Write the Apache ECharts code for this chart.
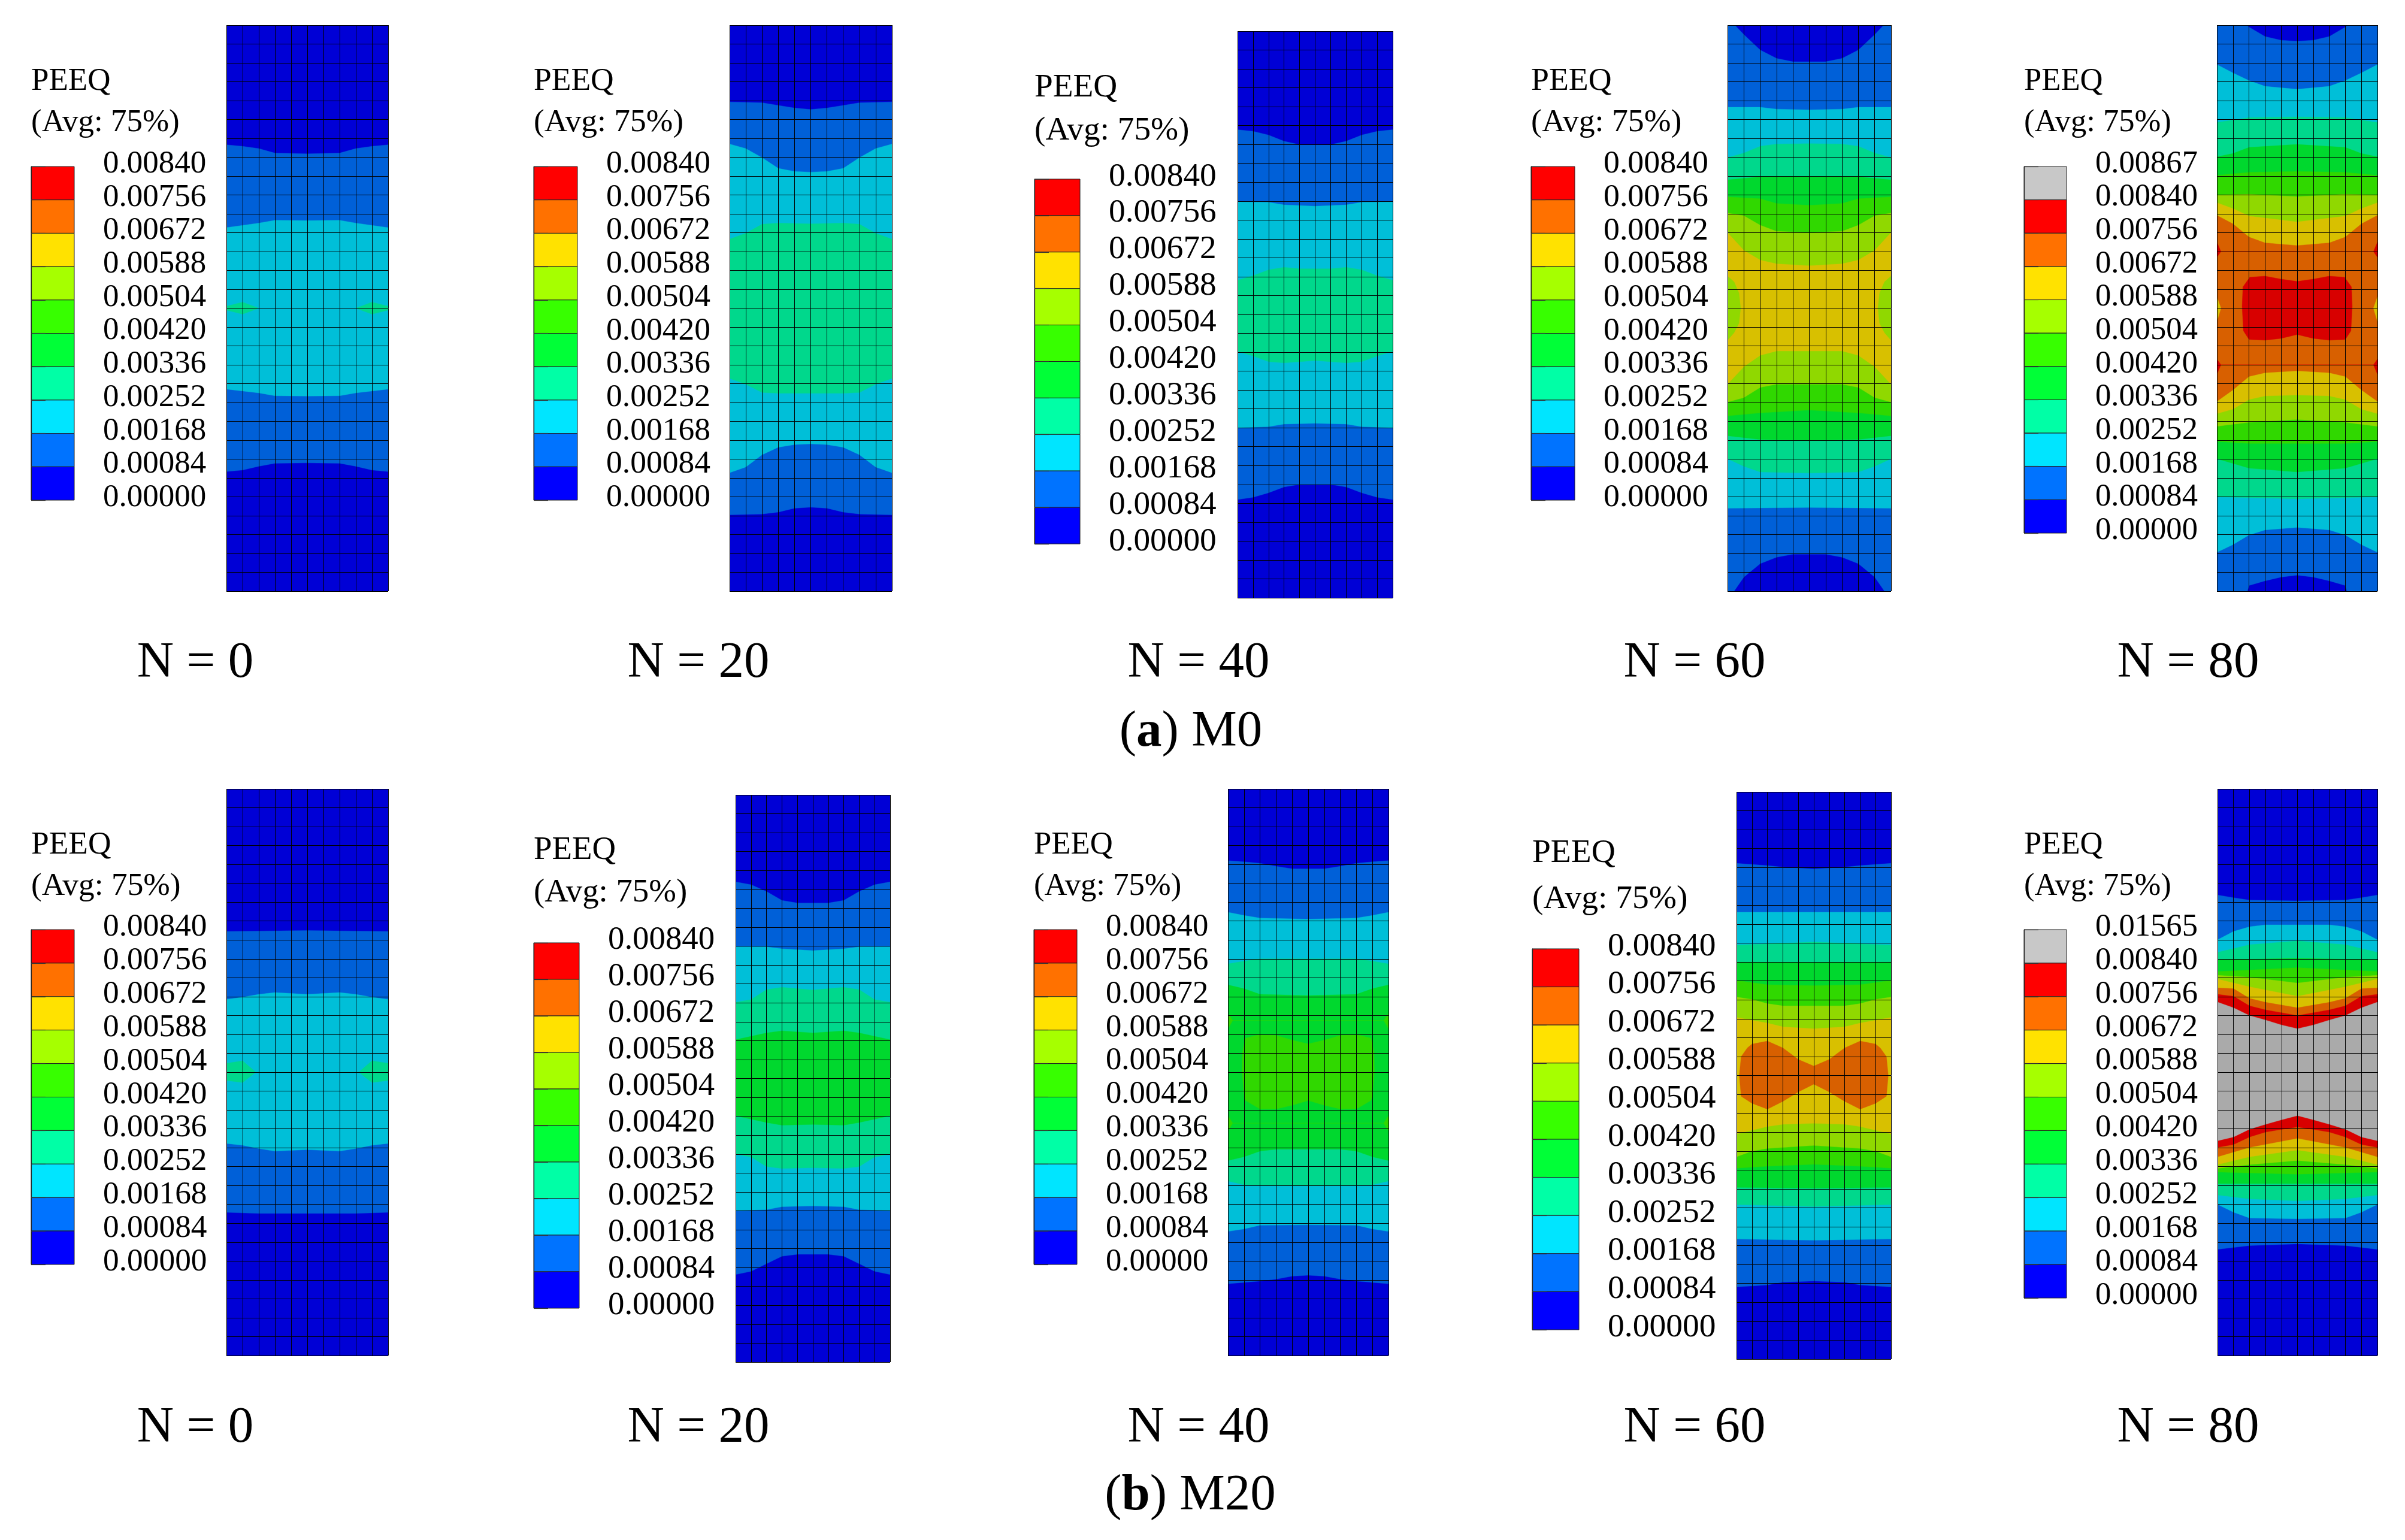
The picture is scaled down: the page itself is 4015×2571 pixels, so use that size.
<!DOCTYPE html>
<html>
<head>
<meta charset="utf-8">
<style>html,body{margin:0;padding:0;background:#fff}#c{width:4015px;height:2571px}</style>
<script src="https://cdn.jsdelivr.net/npm/echarts@6/dist/echarts.min.js"></script>
</head>
<body>
<div id="c"></div>
<script>
// ---------- values ----------
const legendTitle = 'PEEQ';
const legendSubtitle = '(Avg: 75%)';
const legendLabels = ['0.00840','0.00756','0.00672','0.00588','0.00504','0.00420','0.00336','0.00252','0.00168','0.00084','0.00000'];
const topLabelM0N80 = '0.00867';
const topLabelM20N80 = '0.01565';
const captionsN = ['N = 0','N = 20','N = 40','N = 60','N = 80'];
const legendColors = ['#0000ff','#0073ff','#00e5ff','#00ffa6','#00ff37','#37ff00','#a6ff00','#ffe200','#ff7100','#ff0000','#c8c8c8'];
const plotColors = ['#0000d6','#0060d8','#00bfd8','#00d88c','#00d82e','#30d800','#90d800','#d8c000','#d86000','#d80000','#aaaaaa'];

// contour regions: [level, upper edge, lower edge]; edges are x,y pairs in mesh
// units (10 x 30 elements), running from the left side to the mid-line.
const contourM0N0 = [
  [1,[0,6.34,1,6.42,2,6.54,3,6.78,5,6.82],[0,23.66,1,23.58,2,23.38,3,23.22,5,23.2]],
  [2,[0,10.73,2,10.49,3,10.34,5,10.36],[0,19.29,2,19.49,3,19.64,5,19.66]],
  [3,[0,14.9,1,14.68,2,15],[0,15.1,1,15.32,2,15]]
];
const contourM0N20 = [
  [1,[0,4.07,2,4.11,3,4.25,4,4.39,5,4.47],[0,25.95,2,25.91,3,25.81,4,25.6,5,25.55]],
  [2,[0,6.3,1,6.54,2,7.02,3,7.59,4,7.75,5,7.79],[0,23.72,1,23.42,2,22.77,3,22.37,4,22.23,5,22.19]],
  [3,[0,11.34,1,11.03,2,10.55,3,10.49,5,10.53],[0,18.72,1,19.03,2,19.47,3,19.51,5,19.51]]
];
const contourM0N40 = [
  [1,[0,5.22,1,5.3,2,5.5,3,5.83,4,6.01,5,6.01],[0,24.8,1,24.68,2,24.44,3,24.13,4,24,5,24]],
  [2,[0,9.04,2,9.06,3,9.2,5,9.27],[0,21,2,20.94,3,20.8,5,20.76]],
  [3,[0,13.19,1,12.95,2,12.64,3,12.5,4,12.58,5,12.58],[0,16.95,1,17.2,2,17.5,3,17.56,5,17.44]]
];
const contourM0N60 = [
  [1,[0,0,0.45,0,1,0.5,2,1.32,3,1.76,4,1.94,5,1.94],[0,30,0.4,30,1,29.25,2,28.54,3,28.2,4,28.04,5,28.04]],
  [2,[0,4.35,2,4.35,3,4.45,5,4.49],[0,25.6,5,25.56]],
  [3,[0,7.02,1,6.78,2,6.42,3,6.3,5,6.28],[0,22.98,1,23.38,2,23.68,5,23.74]],
  [4,[0,8.2,2,8.04,5,8.02],[0,21.76,2,21.96,5,22]],
  [5,[0,9.1,2,9.2,3,9.45,5,9.55],[0,20.71,2,20.55,5,20.4]],
  [6,[0,9.96,1,10.1,2,10.6,3,10.93,5,10.99],[0,19.98,1,19.74,2,19.2,3,19.03,5,19.03]],
  [7,[0,10.99,1,11.94,2,12.45,3,12.65,5,12.75],[0,19.03,1,18.1,2,17.5,3,17.27,5,17.27]],
  [6,[0,13.3,0.4,13.6,0.7,14.2,0.8,15],[0,16.7,0.4,16.3,0.7,15.8,0.8,15]]
];
const contourM0N80 = [
  [1,[0,0,1.85,0,2,0.1,3,0.6,4,0.8,5,0.85],[0,30,1.9,30,2,29.7,3,29.45,4,29.25,5,29.15]],
  [2,[0,2.09,1,2.53,2,2.94,3,3.24,5,3.4],[0,27.94,1,27.53,2,27.02,3,26.75,5,26.62]],
  [3,[0,5.16,2,4.9,5,4.86],[0,25,5,25.1]],
  [4,[0,6.98,1,6.8,2,6.48,5,6.32],[0,22.98,2,23.48,5,23.68]],
  [5,[0,7.96,2,7.8,5,7.75],[0,22.06,2,22.17,5,22.17]],
  [6,[0,9,2,8.96,5,9.09],[0,21.26,2,21.05,5,20.9]],
  [7,[0,9.41,1,9.72,2,10.12,5,10.43],[0,20.59,1,20.35,2,19.84,3,19.65,5,19.6]],
  [8,[0,10.08,1,10.53,2,11.23,3,11.54,5,11.68],[0,19.94,1,19.33,2,18.62,3,18.42,5,18.32]],
  [9,[0,11.5,0.25,12],[0,12.3,0.25,12]],
  [9,[0,17.7,0.25,18],[0,18.5,0.25,18]],
  [7,[0,14.4,0.25,15],[0,15.7,0.25,15]],
  [9,[1.57,14.9,1.62,13.87,2.05,13.36,3,13.3,4,13.46,5,13.58],[1.57,14.9,1.65,16.2,2,16.66,3,16.7,4,16.6,5,16.4]]
];
const contourM20N0 = [
  [1,[0,7.55,5,7.5],[0,22.42,2,22.48,5,22.48]],
  [2,[0,11.15,1,11.03,2,10.88,3,10.78,5,10.88],[0,18.77,1,18.87,2,19.04,3,19.18,5,19.1]],
  [3,[0,14.53,1,14.4,1.82,15],[0,15.44,1,15.55,1.82,15]]
];
const contourM20N20 = [
  [1,[0,4.6,1,4.75,2,5.11,3,5.58,4,5.72,5,5.72],[0,25.37,1,25.2,2,24.8,3,24.4,4,24.3,5,24.3]],
  [2,[0,8.04,2,8.04,3,8.14,5,8.24],[0,21.98,2,21.94,3,21.78,5,21.74]],
  [3,[0,10.97,1,10.83,2,10.3,3,10.18,5,10.32],[0,19.01,1,19.15,2,19.66,3,19.76,5,19.72]],
  [4,[0,12.95,2,12.59,3,12.48,5,12.59],[0,16.97,2,17.33,3,17.47,5,17.43]]
];
const contourM20N40 = [
  [1,[0,3.8,1,3.86,2,3.94,3,4.1,4,4.23,5,4.23],[0,26.2,2,26.06,3,25.96,4,25.8,5,25.75]],
  [2,[0,6.53,1,6.7,2,6.84,5,6.9],[0,23.43,1,23.3,2,23.1,5,23.08]],
  [3,[0,9.27,1,9.12,2,9,5,9],[0,20.76,1,20.96,5,21]],
  [4,[0,10.38,1,10.58,2,10.88,5,10.94],[0,19.68,1,19.48,2,19.18,3,19.08,5,19.08]],
  [5,[0.88,15,0.9,14,1,13.5,1.1,13.2,2,13,3,13.05,4,13.3,5,13.5],[0.88,15,1,16.2,1.1,16.5,2,16.95,3,16.95,4,16.75,5,16.5]],
  [5,[0,11.9,0.3,12.26],[0,12.7,0.3,12.26]],
  [5,[0,17.3,0.3,17.7],[0,18.1,0.3,17.7]]
];
const contourM20N60 = [
  [1,[0,3.78,2,3.9,3,3.98,5,4.08],[0,26.18,2,26.08,3,25.93,5,25.87]],
  [2,[0,6.37,5,6.37],[0,23.65,5,23.71]],
  [3,[0,8.1,5,7.94],[0,21.83,5,21.93]],
  [4,[0,9,5,9.04],[0,20.92,5,20.96]],
  [5,[0,9.97,2,10.2,5,10.25],[0,19.9,2,19.8,5,19.7]],
  [6,[0,10.85,1,10.98,2,11.2,3,11.32,5,11.32],[0,19.3,1,19,2,18.86,5,18.7]],
  [7,[0,11.93,2,12.23,3,12.43,5,12.53],[0,18.09,2,17.7,3,17.58,5,17.53]],
  [8,[0.18,15,0.3,14,0.7,13.54,1,13.34,2,13.18,3,13.54,4,14.15,5,14.5],[0.18,15,0.3,16.1,1,16.47,2,16.78,3,16.37,4,15.87,5,15.46]]
];
const contourM20N80 = [
  [1,[0,5.62,1,5.76,2,5.89,5,5.93],[0,24.38,2,24.18,5,24.09]],
  [2,[0,7.99,1,7.55,2,7.3,3,7.2,5,7.2],[0,22,1,22.41,2,22.72,5,22.76]],
  [3,[0,8.66,2,8.25,5,8.05],[0,21.5,2,21.71,5,21.81]],
  [4,[0,9.06,5,8.96],[0,20.9,5,20.9]],
  [5,[0,9.67,5,9.47],[0,20.29,5,20.4]],
  [6,[0,9.87,2,9.97,5,10.28],[0,20.09,2,19.89,5,19.68]],
  [7,[0,10.07,2,10.48,5,10.98],[0,19.89,2,19.48,5,19.12]],
  [8,[0,10.54,1,10.58,2,11.09,3,11.3,5,11.59],[0,19.48,2,18.98,5,18.5]],
  [9,[0,10.88,1,10.98,2,11.49,3,11.7,5,12],[0,18.98,1,18.83,2,18.43,3,18.17,4,18.03,5,17.9]],
  [10,[0,11.29,1,11.59,2,12,3,12.24,4,12.5,5,12.7],[0,18.63,1,18.43,2,18.02,3,17.76,4,17.52,5,17.3]]
];
const contours = [contourM0N0,contourM0N20,contourM0N40,contourM0N60,contourM0N80,
                  contourM20N0,contourM20N20,contourM20N40,contourM20N60,contourM20N80];

// ---------- layout (pixels), separate from the values ----------
const meshRect = [[378,42,270,945],[1218,42,271,945],[2066,52,259,946],[2884,42,273,945],[3701,42,268,945],
                  [378,1317,270,946],[1228,1327,258,947],[2050,1317,268,946],[2899,1322,258,947],[3702,1317,267,946]];
// swatch left, swatch right, top, bottom, label font, title baseline, subtitle baseline
const legendRect = [[52,124,278,835,53,151,223],[891,964,278,835,53.5,151,223],[1727,1803,299,908,55.3,162,237],[2556,2629,278,835,53.8,151,223],[3379,3450,278,890,52.6,151,223],
                    [52,124,1552,2111,53.4,1426,1498],[891,967,1574,2184,54.8,1435,1509],[1726,1798,1552,2111,52.7,1426,1498],[2558,2636,1584,2220,55.5,1440,1520],[3379,3450,1552,2167,52.6,1426,1498]];
const captionX = [326,1166,2001,2829,3653];
const captionBaseline = [1136,2413];
const groupCaption = [{x:1988,base:1251,text:'{r|(}{b|a}{r|) M0}'},{x:1987,base:2526,text:'{r|(}{b|b}{r|) M20}'}];

const SERIF = '"Liberation Serif","Times New Roman",serif';
const CAPTION_SIZE = 85;
const grids=[],xAxes=[],yAxes=[],series=[],titles=[];

function mirror(c){return c.map(p=>[10-p[0],p[1]]);}
function pairs(f){const o=[];for(let i=0;i<f.length;i+=2)o.push([f[i],f[i+1]]);return o;}

contours.forEach((regions,p)=>{
  // contour plot with mesh
  const m=meshRect[p];
  grids.push({left:m[0],top:m[1],width:m[2],height:m[3]});
  let gi=grids.length-1;
  const meshLine={show:true,lineStyle:{color:'#000',width:1}};
  xAxes.push({gridIndex:gi,type:'value',min:0,max:10,interval:1,z:6,axisLine:{show:false},axisTick:{show:false},axisLabel:{show:false},splitLine:meshLine});
  yAxes.push({gridIndex:gi,type:'value',inverse:true,min:0,max:30,interval:1,z:6,axisLine:{show:false},axisTick:{show:false},axisLabel:{show:false},splitLine:meshLine});
  const all=[[0,[0,0,5,0],[0,30,5,30]]].concat(regions);
  series.push({type:'custom',xAxisIndex:gi,yAxisIndex:gi,z:2,silent:true,animation:false,clip:true,
    data:all.map(r=>r[0]),
    renderItem:(params,api)=>{
      const r=all[params.dataIndex];
      const top=pairs(r[1]),bot=pairs(r[2]);
      const pts=top.concat(mirror(top).reverse(),mirror(bot),bot.slice().reverse()).map(q=>api.coord(q));
      return {type:'polygon',shape:{points:pts},style:{fill:plotColors[r[0]],stroke:plotColors[r[0]],lineWidth:0.4}};
    }});

  // legend
  const l=legendRect[p];
  const labels=(p===4?[topLabelM0N80]:p===9?[topLabelM20N80]:[]).concat(legendLabels);
  const n=labels.length-1;
  const cells=legendColors.slice(0,n).reverse();   // top-down
  grids.push({left:l[0],top:l[2],width:l[1]-l[0],height:l[3]-l[2]});
  gi=grids.length-1;
  xAxes.push({gridIndex:gi,type:'value',min:0,max:1,show:false});
  yAxes.push({gridIndex:gi,type:'value',position:'right',min:0,max:n,interval:1,z:6,splitLine:{show:false},
    axisLine:{show:true,lineStyle:{color:'#222',width:1.2}},
    axisTick:{show:true,length:24,lineStyle:{color:'#333',width:1.2}},
    axisLabel:{show:true,margin:48,fontFamily:SERIF,fontSize:l[4],color:'#000',align:'left',verticalAlign:'bottom',lineHeight:8,
      showMinLabel:true,showMaxLabel:true,hideOverlap:false,formatter:v=>labels[n-Math.round(v)]}});
  series.push({type:'custom',xAxisIndex:gi,yAxisIndex:gi,z:2,silent:true,animation:false,
    data:cells.map((c,i)=>i),
    renderItem:(params,api)=>{
      const i=params.dataIndex;
      const a=api.coord([0,n-i]),b=api.coord([1,n-i-1]);
      return {type:'rect',shape:{x:a[0],y:a[1],width:b[0]-a[0],height:b[1]-a[1]},style:{fill:cells[i],stroke:'#222',lineWidth:1}};
    }});

  // legend headings
  titles.push({text:legendTitle,left:l[0],top:l[5]+4-0.36*l[4],padding:0,textAlign:'left',textVerticalAlign:'middle',textStyle:{fontFamily:SERIF,fontSize:l[4],fontWeight:'normal',color:'#000'}});
  titles.push({text:legendSubtitle,left:l[0],top:l[6]+1-0.36*l[4],padding:0,textAlign:'left',textVerticalAlign:'middle',textStyle:{fontFamily:SERIF,fontSize:l[4],fontWeight:'normal',color:'#000'}});
});

// captions
captionBaseline.forEach(b=>captionsN.forEach((t,i)=>{
  titles.push({text:t,left:captionX[i],top:b-28,padding:0,textAlign:'center',textVerticalAlign:'middle',textStyle:{fontFamily:SERIF,fontSize:CAPTION_SIZE,fontWeight:'normal',color:'#000'}});
}));
groupCaption.forEach(g=>{
  titles.push({text:g.text,left:g.x,top:g.base-28,padding:0,textAlign:'center',textVerticalAlign:'middle',
    textStyle:{fontFamily:SERIF,fontSize:CAPTION_SIZE,color:'#000',rich:{r:{fontFamily:SERIF,fontSize:CAPTION_SIZE,fontWeight:'normal'},b:{fontFamily:SERIF,fontSize:CAPTION_SIZE,fontWeight:'bold'}}}});
});

const chart=echarts.init(document.getElementById('c'),null,{renderer:'canvas'});
chart.setOption({animation:false,backgroundColor:'#fff',title:titles,grid:grids,xAxis:xAxes,yAxis:yAxes,series:series,tooltip:{show:false}});
</script>
</body>
</html>
